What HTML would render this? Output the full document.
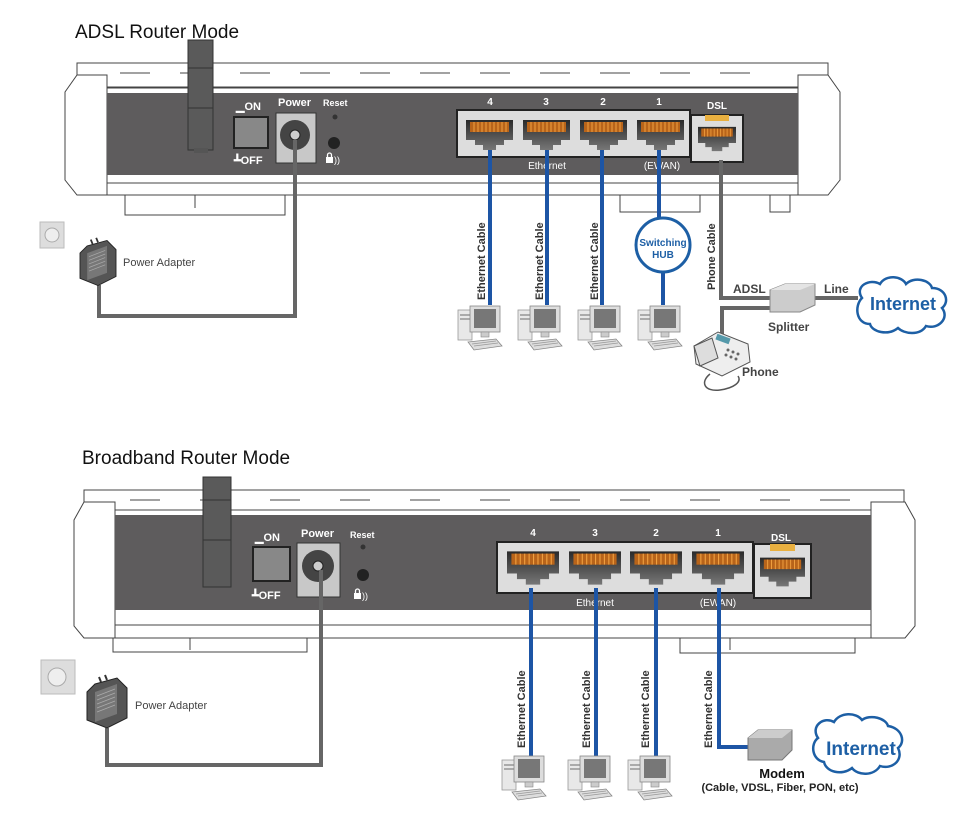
<!DOCTYPE html>
<html><head><meta charset="utf-8"><style>
html,body{margin:0;padding:0;background:#fff;}
svg{display:block;font-family:"Liberation Sans",Arial,sans-serif;}
</style></head><body>
<svg width="964" height="813" viewBox="0 0 964 813" xmlns="http://www.w3.org/2000/svg">
<defs>
<linearGradient id="jg" x1="0" y1="0" x2="0" y2="1"><stop offset="0" stop-color="#2a2a2a"/><stop offset="1" stop-color="#777"/></linearGradient>
<symbol id="jack" viewBox="0 0 47 30" overflow="visible">
<path d="M0,0H47V20H38V25H30V30H17V25H9V20H0Z" fill="url(#jg)"/>
<rect x="4" y="2" width="39" height="10" fill="#b8641a"/>
<g stroke="#f0a040" stroke-width="1"><path d="M8,2v10M12,2v10M16,2v10M20,2v10M24,2v10M28,2v10M32,2v10M36,2v10M40,2v10"/></g>
</symbol>
<symbol id="pc" viewBox="0 0 50 45" overflow="visible">
<rect x="2" y="4" width="14" height="30" fill="#e8e8e8" stroke="#999" stroke-width="0.8"/>
<rect x="4" y="8" width="10" height="2" fill="#aaa"/><rect x="4" y="12" width="10" height="2" fill="#aaa"/>
<rect x="14" y="0" width="30" height="26" fill="#ddd" stroke="#888" stroke-width="0.8"/>
<rect x="18" y="3" width="22" height="19" fill="#777"/>
<rect x="25" y="26" width="8" height="5" fill="#ccc" stroke="#888" stroke-width="0.6"/>
<path d="M12,36 L40,33 L46,40 L18,44Z" fill="#ddd" stroke="#888" stroke-width="0.8"/>
<path d="M16,38 L40,35 M18,40 L42,37" stroke="#999" stroke-width="0.8"/>
</symbol>
<symbol id="adapter" viewBox="0 0 40 50" overflow="visible">
<path d="M8,6 L30,0 L40,10 L40,40 L20,50 L0,42 L0,14Z" fill="#555" stroke="#222" stroke-width="1"/>
<path d="M8,14 L30,6 L30,36 L8,44Z" fill="#777"/>
<g stroke="#aaa" stroke-width="0.8"><path d="M10,18l18,-7M10,22l18,-7M10,26l18,-7M10,30l18,-7M10,34l18,-7"/></g>
<path d="M14,4 l-2,-5 M20,2 l-2,-5" stroke="#333" stroke-width="2"/>
</symbol>
</defs>

<!-- ===== TOP ===== -->
<text x="75" y="38" font-size="19" fill="#111">ADSL Router Mode</text>
<g fill="none" stroke="#444" stroke-width="1">
<rect x="77" y="63" width="751" height="24" fill="#fff"/>
<path d="M65,92 L77,75 H107 V195 H77 L65,180Z" fill="#fff"/>
<path d="M840,92 L828,75 H798 V195 H828 L840,180Z" fill="#fff"/>
<rect x="107" y="88" width="691" height="107" fill="#fff"/>
<line x1="107" y1="183" x2="798" y2="183"/>
<path d="M125,195V215H285V195 M195,195V208 M620,195V212H700V195 M770,195V212H790V195"/>
<path d="M120,73 h30 M180,73 h30 M240,73 h30 M300,73 h30 M360,73 h30 M420,73 h30 M480,73 h30 M540,73 h30 M600,73 h30 M660,73 h30 M720,73 h30"/>
</g>
<rect x="107" y="93" width="691" height="82" fill="#5e5c5d"/>
<rect x="188" y="40" width="25" height="110" fill="#5a5a5a" stroke="#333"/>
<line x1="188" y1="68" x2="213" y2="68" stroke="#333"/><line x1="188" y1="108" x2="213" y2="108" stroke="#333"/>
<rect x="194" y="148" width="14" height="5" fill="#555"/>
<rect x="234" y="117" width="34" height="31" fill="#888" stroke="#222" stroke-width="2"/>
<text x="236" y="110" font-size="11" fill="#fff" font-weight="bold">▁ON</text>
<text x="234" y="164" font-size="11" fill="#fff" font-weight="bold">┻OFF</text>
<text x="278" y="106" font-size="11" fill="#fff" font-weight="bold">Power</text>
<rect x="276" y="113" width="40" height="50" fill="#c8c8c8" stroke="#333"/>
<circle cx="295" cy="135" r="15" fill="#444"/><circle cx="295" cy="135" r="5" fill="#ccc" stroke="#222"/>
<text x="323" y="106" font-size="9" fill="#fff" font-weight="bold">Reset</text>
<circle cx="335" cy="117" r="2.5" fill="#333"/><circle cx="334" cy="143" r="6" fill="#222"/>
<rect x="326" y="157" width="7" height="6" fill="#fff"/><path d="M327.5,157 v-2 a2,2 0 0 1 4,0 v2" fill="none" stroke="#fff" stroke-width="1.3"/>
<text x="334" y="163" font-size="9" fill="#fff">))</text>
<rect x="457" y="110" width="233" height="47" fill="#ddd" stroke="#222" stroke-width="2"/>
<use href="#jack" x="466" y="120" width="47" height="30"/>
<use href="#jack" x="523" y="120" width="47" height="30"/>
<use href="#jack" x="580" y="120" width="47" height="30"/>
<use href="#jack" x="637" y="120" width="47" height="30"/>
<g font-size="10" fill="#fff" font-weight="bold" text-anchor="middle">
<text x="490" y="105">4</text><text x="546" y="105">3</text><text x="603" y="105">2</text><text x="659" y="105">1</text>
<text x="717" y="109">DSL</text>
</g>
<g font-size="10" fill="#fff" text-anchor="middle"><text x="547" y="169">Ethernet</text><text x="662" y="169">(EWAN)</text></g>
<rect x="691" y="115" width="52" height="47" fill="#ddd" stroke="#222" stroke-width="2"/>
<rect x="705" y="115" width="24" height="6" fill="#e9b040"/>
<use href="#jack" x="698" y="121" width="38" height="36"/>
<g stroke="#1d55a5" stroke-width="4" fill="none">
<path d="M490,150V305 M547,150V305 M602,150V305 M659,150V218 M663,272V305"/>
</g>
<circle cx="663" cy="245" r="27" fill="#fff" stroke="#1d5fa5" stroke-width="3"/>
<text x="663" y="246" font-size="10" font-weight="bold" fill="#1d5fa5" text-anchor="middle">Switching</text>
<text x="663" y="258" font-size="10" font-weight="bold" fill="#1d5fa5" text-anchor="middle">HUB</text>
<g font-size="11" fill="#333" font-weight="bold">
<text transform="translate(485,300) rotate(-90)">Ethernet Cable</text>
<text transform="translate(543,300) rotate(-90)">Ethernet Cable</text>
<text transform="translate(598,300) rotate(-90)">Ethernet Cable</text>
<text transform="translate(715,290) rotate(-90)">Phone Cable</text>
</g>
<use href="#pc" x="456" y="306" width="50" height="45"/>
<use href="#pc" x="516" y="306" width="50" height="45"/>
<use href="#pc" x="576" y="306" width="50" height="45"/>
<use href="#pc" x="636" y="306" width="50" height="45"/>
<g stroke="#666" stroke-width="4" fill="none">
<path d="M721,160V298H772 M722,335V308H772 M815,298H858"/>
<path d="M99,285V316H295V140"/>
</g>
<path d="M770,290 L785,284 H815 V305 L800,312 H770Z" fill="#ccc" stroke="#888"/>
<path d="M770,290 L785,284 H815 L800,290Z" fill="#e4e4e4"/>
<g font-size="12" font-weight="bold" fill="#444">
<text x="733" y="293">ADSL</text><text x="824" y="293">Line</text><text x="768" y="331">Splitter</text><text x="742" y="376">Phone</text>
</g>
<path d="M862,298 c-8,-12 8,-20 18,-14 c6,-10 22,-8 26,0 c8,-8 24,-4 26,4 c14,0 18,14 10,20 c8,10 -4,22 -16,18 c-6,10 -22,8 -28,2 c-10,8 -26,4 -28,-4 c-14,0 -16,-18 -8,-26Z" fill="#fff" stroke="#1d5fa5" stroke-width="2.5"/>
<text x="903" y="310" font-size="18" font-weight="bold" fill="#1d5fa5" text-anchor="middle">Internet</text>
<g transform="translate(692,332)">
<path d="M2,14 L26,0 L56,12 L58,30 L30,44 L4,32Z" fill="#eee" stroke="#555"/>
<path d="M2,14 L20,6 L26,26 L8,34Z" fill="#ddd" stroke="#555"/>
<rect x="24" y="4" width="14" height="6" fill="#59a" transform="rotate(20 31 7)"/>
<g fill="#666"><circle cx="36" cy="18" r="1.5"/><circle cx="41" cy="20" r="1.5"/><circle cx="46" cy="22" r="1.5"/><circle cx="34" cy="23" r="1.5"/><circle cx="39" cy="25" r="1.5"/><circle cx="44" cy="27" r="1.5"/></g>
<path d="M18,42 c-10,8 -6,18 10,16 c14,-2 22,-8 18,-14" fill="none" stroke="#555" stroke-width="1.5"/>
</g>
<rect x="40" y="222" width="24" height="26" fill="#ddd" stroke="#bbb"/>
<circle cx="52" cy="235" r="7" fill="#eee" stroke="#aaa"/>
<use href="#adapter" x="80" y="240" width="36" height="46"/>
<text x="123" y="266" font-size="11" fill="#444">Power Adapter</text>

<!-- ===== BOTTOM ===== -->
<text x="82" y="464" font-size="19" fill="#111">Broadband Router Mode</text>
<g fill="none" stroke="#444" stroke-width="1">
<rect x="84" y="490" width="820" height="22" fill="#fff"/>
<path d="M74,520 L84,502 H115 V638 H84 L74,626Z" fill="#fff"/>
<path d="M915,520 L905,502 H871 V638 H905 L915,626Z" fill="#fff"/>
<rect x="115" y="510" width="756" height="128" fill="#fff"/>
<line x1="115" y1="625" x2="871" y2="625"/>
<path d="M113,638V652H307V638 M190,638V650 M680,638V653H855V638 M730,638V650"/>
<path d="M130,500 h30 M200,500 h30 M270,500 h30 M340,500 h30 M410,500 h30 M480,500 h30 M550,500 h30 M620,500 h30 M690,500 h30 M760,500 h30 M820,500 h30"/>
</g>
<rect x="115" y="515" width="756" height="95" fill="#5e5c5d"/>
<rect x="203" y="477" width="28" height="110" fill="#5a5a5a" stroke="#333"/>
<line x1="203" y1="500" x2="231" y2="500" stroke="#333"/><line x1="203" y1="540" x2="231" y2="540" stroke="#333"/>
<rect x="253" y="547" width="37" height="34" fill="#888" stroke="#222" stroke-width="2"/>
<text x="255" y="541" font-size="11" fill="#fff" font-weight="bold">▁ON</text>
<text x="252" y="599" font-size="11" fill="#fff" font-weight="bold">┻OFF</text>
<text x="301" y="537" font-size="11" fill="#fff" font-weight="bold">Power</text>
<rect x="297" y="543" width="43" height="54" fill="#c8c8c8" stroke="#333"/>
<circle cx="318" cy="566" r="16" fill="#444"/><circle cx="318" cy="566" r="5" fill="#ccc" stroke="#222"/>
<text x="350" y="538" font-size="9" fill="#fff" font-weight="bold">Reset</text>
<circle cx="363" cy="547" r="2.5" fill="#333"/><circle cx="363" cy="575" r="6" fill="#222"/>
<rect x="354" y="593" width="7" height="6" fill="#fff"/><path d="M355.5,593 v-2 a2,2 0 0 1 4,0 v2" fill="none" stroke="#fff" stroke-width="1.3"/>
<text x="362" y="599" font-size="9" fill="#fff">))</text>
<rect x="497" y="542" width="256" height="51" fill="#ddd" stroke="#222" stroke-width="2"/>
<use href="#jack" x="507" y="548" width="52" height="40"/>
<use href="#jack" x="569" y="548" width="52" height="40"/>
<use href="#jack" x="630" y="548" width="52" height="40"/>
<use href="#jack" x="692" y="548" width="52" height="40"/>
<g font-size="10" fill="#fff" font-weight="bold" text-anchor="middle">
<text x="533" y="536">4</text><text x="595" y="536">3</text><text x="656" y="536">2</text><text x="718" y="536">1</text>
<text x="781" y="541">DSL</text>
</g>
<g font-size="10" fill="#fff" text-anchor="middle"><text x="595" y="606">Ethernet</text><text x="718" y="606">(EWAN)</text></g>
<rect x="754" y="544" width="57" height="54" fill="#ddd" stroke="#222" stroke-width="2"/>
<rect x="770" y="544" width="25" height="7" fill="#e9b040"/>
<use href="#jack" x="760" y="551" width="45" height="42"/>
<g stroke="#1d55a5" stroke-width="4" fill="none">
<path d="M531,588V757 M596,588V757 M656,588V757 M719,588V747H748"/>
</g>
<g font-size="11" fill="#333" font-weight="bold">
<text transform="translate(525,748) rotate(-90)">Ethernet Cable</text>
<text transform="translate(590,748) rotate(-90)">Ethernet Cable</text>
<text transform="translate(649,748) rotate(-90)">Ethernet Cable</text>
<text transform="translate(712,748) rotate(-90)">Ethernet Cable</text>
</g>
<use href="#pc" x="500" y="756" width="50" height="45"/>
<use href="#pc" x="566" y="756" width="50" height="45"/>
<use href="#pc" x="626" y="756" width="50" height="45"/>
<path d="M748,738 L758,730 H792 V750 L782,760 H748Z" fill="#aaa" stroke="#777"/>
<path d="M748,738 L758,730 H792 L782,738Z" fill="#ccc"/>
<path d="M818,738 c-8,-12 6,-22 16,-16 c6,-10 22,-10 28,-2 c8,-6 24,-2 26,6 c14,2 18,16 10,22 c6,12 -6,22 -18,18 c-6,10 -22,10 -28,2 c-10,8 -26,4 -28,-6 c-12,-2 -14,-18 -6,-24Z" fill="#fff" stroke="#1d5fa5" stroke-width="2.5"/>
<text x="861" y="755" font-size="19" font-weight="bold" fill="#1d5fa5" text-anchor="middle">Internet</text>
<text x="782" y="778" font-size="13" font-weight="bold" fill="#111" text-anchor="middle">Modem</text>
<text x="780" y="791" font-size="11" font-weight="bold" fill="#222" text-anchor="middle">(Cable, VDSL, Fiber, PON, etc)</text>
<g stroke="#666" stroke-width="4" fill="none"><path d="M107,728V765H321V570"/></g>
<rect x="41" y="660" width="34" height="34" fill="#ddd" stroke="#bbb"/>
<circle cx="57" cy="677" r="9" fill="#eee" stroke="#aaa"/>
<use href="#adapter" x="87" y="678" width="40" height="50"/>
<text x="135" y="709" font-size="11" fill="#444">Power Adapter</text>
</svg>
</body></html>
